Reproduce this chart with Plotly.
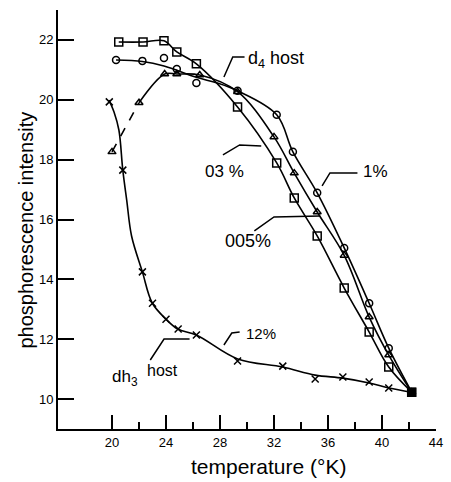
import plotly.graph_objects as go

# ---- data ----
# 0.3 % (squares)
T_sq = [20.5, 22.3, 23.85, 24.8, 26.25, 29.3, 32.2, 33.5, 35.2, 37.2, 39.05, 40.5, 42.2]
I_sq = [21.93, 21.93, 21.97, 21.6, 21.2, 19.76, 17.89, 16.72, 15.45, 13.71, 12.24, 11.07, 10.23]

# 1 % (circles): measured points and the drawn curve
T_ci = [20.3, 22.25, 23.85, 24.8, 26.25, 29.3, 32.2, 33.4, 35.2, 37.2, 39.05, 40.5, 42.2]
I_ci = [21.33, 21.3, 21.4, 21.03, 20.56, 20.3, 19.5, 18.26, 16.89, 15.05, 13.2, 11.7, 10.23]
T_ci_curve = [20.3, 22.25, 23.85, 26.25, 27.8, 29.3, 32.2, 33.4, 35.2, 37.2, 39.05, 40.5, 42.2]
I_ci_curve = [21.33, 21.28, 21.13, 20.75, 20.56, 20.3, 19.5, 18.26, 16.89, 15.05, 13.2, 11.7, 10.23]

# 0.05 % (triangles)
T_tr = [20.0, 22.0, 23.9, 24.8, 26.5, 29.3, 32.0, 33.5, 35.2, 37.2, 39.05, 40.5, 42.2]
I_tr = [18.26, 19.9, 20.86, 20.86, 20.83, 20.27, 18.76, 17.55, 16.25, 14.8, 12.74, 11.47, 10.23]

# 12 % in dh3 host (crosses): measured points and the drawn curve
T_x = [19.8, 20.8, 22.25, 23.0, 24.0, 24.9, 26.25, 29.3, 32.65, 35.05, 37.1, 39.05, 40.5, 42.2]
I_x = [19.93, 17.65, 14.25, 13.2, 12.67, 12.34, 12.14, 11.27, 11.1, 10.67, 10.74, 10.57, 10.37, 10.23]
T_x_curve = [19.78, 20.15, 20.51, 20.8, 21.09, 21.45, 22.25, 22.98, 24.0, 24.87, 26.25, 29.31,
             32.65, 35.05, 37.09, 39.05, 40.51, 42.18]
I_x_curve = [19.99, 19.59, 18.99, 17.65, 16.65, 15.45, 14.25, 13.21, 12.67, 12.34, 12.14, 11.34,
             11.07, 10.80, 10.70, 10.54, 10.37, 10.23]

T_end = [42.2]
I_end = [10.23]

x_ticks = [20, 24, 28, 32, 36, 40, 44]
x_minor = [22, 26, 30, 34, 38, 42]
y_ticks = [10, 12, 14, 16, 18, 20, 22]

FONT = "Liberation Sans"

# pixel -> data helpers for annotation placement
def X(px):
    return 20 + (px - 113) / 13.75

def Y(py):
    return 22 - (py - 40) / 29.92

def PX(px):
    return (px - 58) / (443 - 58)

def PY(py):
    return (429 - py) / (429 - 10)

line = dict(color="black", width=1.6, shape="spline", smoothing=1.0)
mk_line = dict(width=1.5, color="black")

fig = go.Figure()
# squares
fig.add_trace(go.Scatter(x=T_sq, y=I_sq, mode="lines+markers", line=line,
                         marker=dict(symbol="square-open", size=8, color="black", line=mk_line)))
# circles
fig.add_trace(go.Scatter(x=T_ci_curve, y=I_ci_curve, mode="lines", line=line))
fig.add_trace(go.Scatter(x=T_ci, y=I_ci, mode="markers",
                         marker=dict(symbol="circle-open", size=7, color="black", line=mk_line)))
# triangles
fig.add_trace(go.Scatter(x=T_tr[:2], y=I_tr[:2], mode="lines",
                         line=dict(color="black", width=1.6, dash="dash")))
fig.add_trace(go.Scatter(x=T_tr[1:], y=I_tr[1:], mode="lines", line=line))
fig.add_trace(go.Scatter(x=T_tr, y=I_tr, mode="markers",
                         marker=dict(symbol="triangle-up-open", size=7, color="black", line=mk_line)))
# crosses
fig.add_trace(go.Scatter(x=T_x_curve, y=I_x_curve, mode="lines", line=line))
fig.add_trace(go.Scatter(x=T_x, y=I_x, mode="markers",
                         marker=dict(symbol="x-thin-open", size=7, color="black", line=mk_line)))
# common end point
fig.add_trace(go.Scatter(x=T_end, y=I_end, mode="markers",
                         marker=dict(symbol="square", size=9, color="black")))

# leader lines
leaders = [
    [(248, 57), (236, 57), (227, 77)],
    [(226, 155), (243, 145), (265, 146)],
    [(363, 173), (335, 173), (327, 186)],
    [(258, 231), (278, 217), (325, 216)],
    [(243, 332), (235, 333), (227, 345)],
    [(152, 360), (166, 339), (192, 339)],
]
shapes = []
for pts in leaders:
    path = "M " + " L ".join(f"{X(a):.4f},{Y(b):.4f}" for a, b in pts)
    shapes.append(dict(type="path", path=path, xref="x", yref="y",
                       line=dict(color="black", width=1.5)))

def lab(text, px, py, size=17, xanchor="center"):
    return dict(text=text, x=X(px), y=Y(py), xref="x", yref="y", showarrow=False,
                xanchor=xanchor, yanchor="middle", font=dict(family=FONT, size=size, color="black"))

annotations = [
    lab("d<sub>4</sub> host", 249, 60, 18, "left"),
    lab("03 %", 228, 172, 17),
    lab("1%", 381, 172, 17),
    lab("005%", 252, 241, 18),
    lab("12%", 265, 333, 15),
    lab("dh<sub>3</sub>", 111, 378, 17, "left"),
    lab("host", 147, 370, 16, "left"),
    dict(text="phosphorescence intensity", x=PX(25), y=PY(230), xref="paper", yref="paper",
         showarrow=False, textangle=-90, xanchor="center", yanchor="middle",
         font=dict(family=FONT, size=20, color="black")),
    dict(text="temperature (°K)", x=PX(272), y=PY(467), xref="paper", yref="paper",
         showarrow=False, xanchor="center", yanchor="middle",
         font=dict(family=FONT, size=21, color="black")),
]

fig.update_layout(
    width=451, height=482,
    margin=dict(l=58, r=8, t=10, b=53),
    paper_bgcolor="white", plot_bgcolor="white",
    showlegend=False,
    shapes=shapes, annotations=annotations,
    xaxis=dict(range=[16, 44], tickvals=x_ticks, ticktext=[str(v) for v in x_ticks],
               ticks="inside", ticklen=14, tickwidth=1.5, tickcolor="black",
               minor=dict(tickvals=x_minor, ticks="inside", ticklen=7, tickwidth=1.5, tickcolor="black"),
               showline=True, linecolor="black", linewidth=2, showgrid=False, zeroline=False,
               tickfont=dict(family=FONT, size=13, color="black")),
    yaxis=dict(range=[9, 23], tickvals=y_ticks, ticktext=[str(v) for v in y_ticks],
               ticks="inside", ticklen=16, tickwidth=1.5, tickcolor="black",
               showline=True, linecolor="black", linewidth=2, showgrid=False, zeroline=False,
               tickfont=dict(family=FONT, size=13, color="black")),
)

fig.write_html("out.html")
